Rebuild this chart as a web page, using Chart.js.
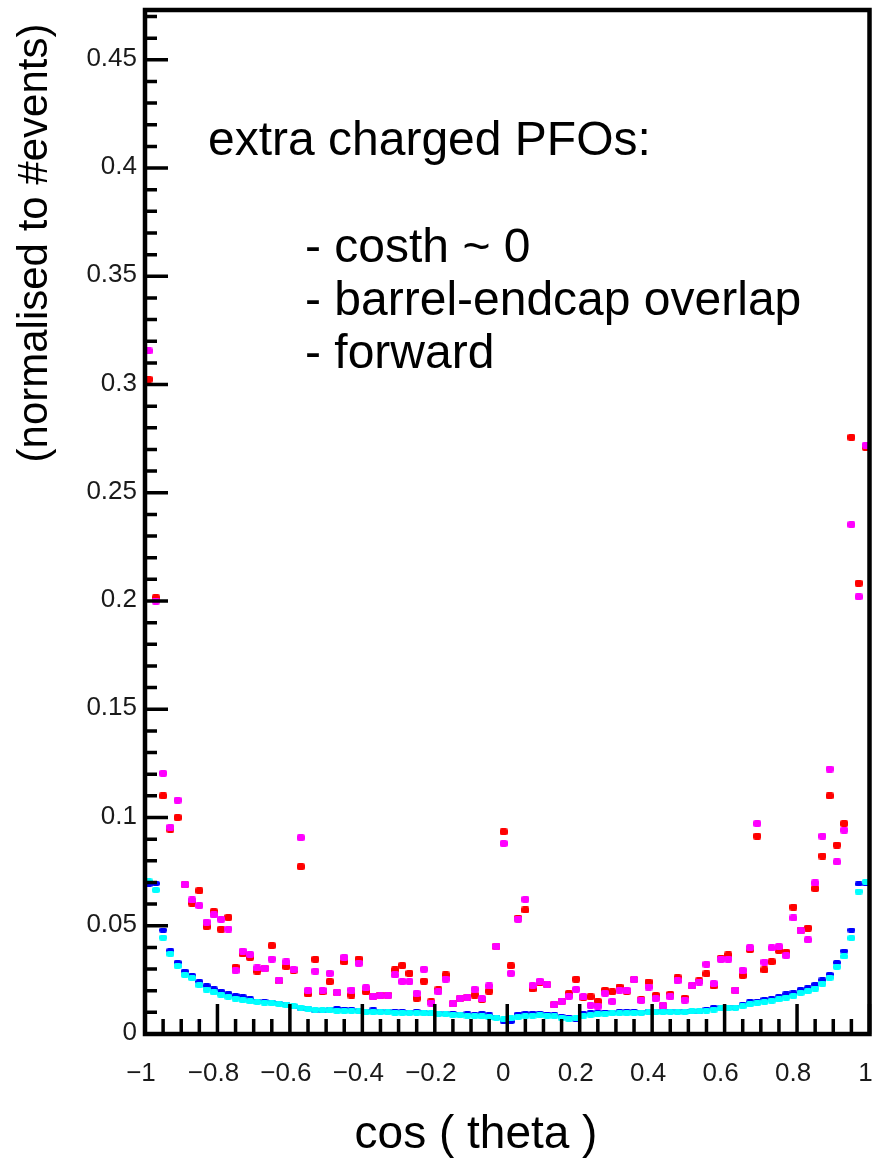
<!DOCTYPE html>
<html>
<head>
<meta charset="utf-8">
<script src="https://cdn.jsdelivr.net/npm/chart.js@4"></script>
<style>
  html, body { margin: 0; padding: 0; background: #fff; }
  #wrap { width: 876px; height: 1158px; position: relative; }
</style>
</head>
<body>
<div id="wrap"><canvas id="costhChart"></canvas></div>
<script>
// cos(theta) of extra charged PFOs, 100 bins from -1 to 1
const nBins = 100;
const binCentres = Array.from({ length: nBins }, (_, i) => -0.99 + 0.02 * i);

const xTickValues = [-1, -0.8, -0.6, -0.4, -0.2, 0, 0.2, 0.4, 0.6, 0.8, 1];
const xTickLabels = ['\u22121', '\u22120.8', '\u22120.6', '\u22120.4', '\u22120.2', '0', '0.2', '0.4', '0.6', '0.8', '1'];
const yTickValues = [0, 0.05, 0.1, 0.15, 0.2, 0.25, 0.3, 0.35, 0.4, 0.45];
const yTickLabels = ['0', '0.05', '0.1', '0.15', '0.2', '0.25', '0.3', '0.35', '0.4', '0.45'];

const magentaVals = [
  0.3155, 0.200, 0.1204, 0.0955, 0.108, 0.0691, 0.0619, 0.0593, 0.0517, 0.055,
  0.053, 0.0485, 0.0293, 0.0383, 0.0368, 0.0305, 0.0303, 0.0346, 0.0249, 0.0333,
  0.0299, 0.0907, 0.0202, 0.029, 0.0202, 0.028, 0.0193, 0.0354, 0.0203, 0.0326,
  0.0214, 0.0172, 0.0177, 0.0177, 0.0273, 0.0242, 0.0242, 0.0188, 0.0299, 0.0143,
  0.0195, 0.0253, 0.0139, 0.0165, 0.0169, 0.0206, 0.0162, 0.0222, 0.0405, 0.088,
  0.028, 0.0531, 0.0622, 0.0225, 0.0244, 0.0228, 0.0134, 0.015, 0.0174, 0.0206,
  0.0171, 0.0132, 0.0128, 0.0188, 0.015, 0.0202, 0.0202, 0.0251, 0.0155, 0.0217,
  0.0163, 0.013, 0.0172, 0.0246, 0.0156, 0.0222, 0.024, 0.0322, 0.0233, 0.0346,
  0.0345, 0.0202, 0.0294, 0.0399, 0.0972, 0.0332, 0.0398, 0.0404, 0.0362, 0.0536,
  0.0477, 0.0435, 0.0698, 0.0914, 0.1224, 0.0795, 0.0942, 0.2353, 0.202, 0.272
];

const redVals = [
  0.3024, 0.2015, 0.110, 0.0946, 0.100, 0.069, 0.0605, 0.0662, 0.0496, 0.0565,
  0.0484, 0.0538, 0.0308, 0.037, 0.0354, 0.0291, 0.0303, 0.0408, 0.0245, 0.0311,
  0.0295, 0.0773, 0.0185, 0.0345, 0.0195, 0.0242, 0.019, 0.0334, 0.018, 0.0346,
  0.0195, 0.0175, 0.018, 0.018, 0.0296, 0.0316, 0.028, 0.0165, 0.0244, 0.0148,
  0.0204, 0.0273, 0.0139, 0.0163, 0.0168, 0.018, 0.016, 0.0198, 0.0404, 0.0934,
  0.0315, 0.0535, 0.0573, 0.0208, 0.024, 0.0228, 0.0135, 0.0152, 0.0187, 0.0253,
  0.017, 0.0172, 0.015, 0.0202, 0.0195, 0.0217, 0.0198, 0.0252, 0.0158, 0.024,
  0.0178, 0.013, 0.0183, 0.026, 0.0165, 0.0222, 0.0245, 0.0278, 0.0222, 0.035,
  0.0365, 0.0202, 0.027, 0.039, 0.0914, 0.0296, 0.0334, 0.0386, 0.0378, 0.0586,
  0.048, 0.0489, 0.0672, 0.0822, 0.110, 0.0873, 0.0972, 0.2756, 0.2082, 0.271
];

const blueVals = [
  0.069, 0.0695, 0.048, 0.0385, 0.033, 0.029, 0.027, 0.0242, 0.0223, 0.0208,
  0.0198, 0.0188, 0.0178, 0.0172, 0.0162, 0.0152, 0.0148, 0.0146, 0.014, 0.0134,
  0.0128, 0.012, 0.0116, 0.0108, 0.0107, 0.0112, 0.0118, 0.0115, 0.0112, 0.0108,
  0.0106, 0.0111, 0.0104, 0.0103, 0.0104, 0.0102, 0.0101, 0.0102, 0.0099, 0.0097,
  0.0096, 0.0093, 0.0094, 0.0092, 0.0093, 0.009, 0.0094, 0.0088, 0.0078, 0.006,
  0.0058, 0.0092, 0.0095, 0.0096, 0.0094, 0.0092, 0.0089, 0.008, 0.0074, 0.0068,
  0.0094, 0.0098, 0.0099, 0.0101, 0.0099, 0.0103, 0.0102, 0.0104, 0.0101, 0.0105,
  0.0103, 0.0102, 0.0105, 0.0103, 0.0106, 0.0102, 0.0104, 0.0114, 0.0122, 0.0121,
  0.0122, 0.0122, 0.0135, 0.0148, 0.0149, 0.016, 0.0163, 0.0172, 0.0185, 0.019,
  0.0205, 0.0213, 0.0229, 0.025, 0.0275, 0.033, 0.0383, 0.048, 0.0693, 0.0696
];

const cyanVals = [
  0.0705, 0.0665, 0.0445, 0.037, 0.0314, 0.0273, 0.0258, 0.0225, 0.0205, 0.0192,
  0.0182, 0.0172, 0.0163, 0.0156, 0.0151, 0.0148, 0.0145, 0.0142, 0.0138, 0.0133,
  0.0128, 0.0122, 0.0117, 0.0112, 0.011, 0.0109, 0.0108, 0.0107, 0.0106, 0.0104,
  0.0103, 0.0102, 0.0101, 0.01, 0.0099, 0.0098, 0.0098, 0.0097, 0.0096, 0.0095,
  0.0094, 0.0091, 0.0089, 0.0087, 0.0085, 0.0083, 0.0081, 0.0079, 0.0075, 0.0068,
  0.0072, 0.0078, 0.0082, 0.0085, 0.0086, 0.0085, 0.0082, 0.0075, 0.0071, 0.0072,
  0.0085, 0.0089, 0.0092, 0.0094, 0.0095, 0.0096, 0.0097, 0.0098, 0.0099, 0.01,
  0.0101, 0.0102, 0.0102, 0.0101, 0.0102, 0.0104, 0.0105, 0.0108, 0.0113, 0.0118,
  0.012, 0.0122, 0.0128, 0.0137, 0.0142, 0.0148, 0.0154, 0.016, 0.0168, 0.0175,
  0.019, 0.0198, 0.021, 0.0232, 0.026, 0.031, 0.0358, 0.0443, 0.0658, 0.0703
];

// small rounded-rect marker images
function marker(color, w, h) {
  const c = document.createElement('canvas');
  c.width = w; c.height = h;
  const g = c.getContext('2d');
  g.fillStyle = color;
  g.beginPath();
  g.roundRect(0, 0, w, h, 2);
  g.fill();
  return c;
}

function series(vals, color, w, h) {
  return {
    data: binCentres.map((x, i) => ({ x: x, y: vals[i] })),
    pointStyle: marker(color, w, h),
    pointRadius: 4,
    showLine: false,
    clip: false
  };
}

const FONT = '"Liberation Sans", Arial, sans-serif';

// frame, inward ticks, tick labels, axis titles and the note text
const rootFrame = {
  id: 'rootFrame',
  afterDatasetsDraw(chart) {
    const { ctx, chartArea: a, scales: { x, y } } = chart;
    ctx.save();
    ctx.strokeStyle = '#000';
    ctx.lineCap = 'butt';

    ctx.lineWidth = 3.5;
    ctx.beginPath();
    for (let k = 0; k <= 40; k++) {
      const px = x.getPixelForValue(-1 + k * 0.05);
      const len = k % 4 === 0 ? 30 : 15;
      ctx.moveTo(px, a.bottom);
      ctx.lineTo(px, a.bottom - len);
    }
    for (let k = 0; k * 0.01 <= y.max; k++) {
      const py = y.getPixelForValue(k * 0.01);
      const len = k % 5 === 0 ? 23 : 12;
      ctx.moveTo(a.left, py);
      ctx.lineTo(a.left + len, py);
    }
    ctx.stroke();

    ctx.lineWidth = 4.5;
    ctx.strokeRect(a.left, a.top, a.right - a.left, a.bottom - a.top);

    // tick labels
    ctx.fillStyle = '#1a1a1a';
    ctx.font = '26px ' + FONT;
    ctx.textAlign = 'right';
    ctx.textBaseline = 'middle';
    yTickValues.forEach((v, i) => {
      ctx.fillText(yTickLabels[i], a.left - 8, y.getPixelForValue(v) - 1);
    });
    ctx.textAlign = 'center';
    ctx.textBaseline = 'alphabetic';
    xTickValues.forEach((v, i) => {
      ctx.fillText(xTickLabels[i], x.getPixelForValue(v) - 4, a.bottom + 47);
    });

    ctx.fillStyle = '#000';
    ctx.font = '46px ' + FONT;
    ctx.fillText('cos ( theta )', 476, 1148);

    ctx.save();
    ctx.translate(47, 243);
    ctx.rotate(-Math.PI / 2);
    ctx.font = '42px ' + FONT;
    ctx.fillText('(normalised to #events)', 0, 0);
    ctx.restore();

    ctx.textAlign = 'left';
    ctx.font = '48px ' + FONT;
    ctx.fillText('extra charged PFOs:', 208, 155);
    ctx.fillText('- costh ~ 0', 305, 262);
    ctx.fillText('- barrel-endcap overlap', 305, 315);
    ctx.fillText('- forward', 305, 368);
    ctx.restore();
  }
};

new Chart(document.getElementById('costhChart').getContext('2d'), {
  type: 'scatter',
  data: {
    datasets: [
      series(magentaVals, '#ff00ff', 8, 7),
      series(redVals, '#ff0000', 8, 7),
      series(cyanVals, '#00ffff', 8, 6),
      series(blueVals, '#0000ff', 8, 5)
    ]
  },
  options: {
    responsive: true,
    maintainAspectRatio: false,
    animation: false,
    layout: { padding: { left: 0, right: 6.5, top: 10, bottom: 0 } },
    plugins: {
      legend: { display: false },
      tooltip: { enabled: false }
    },
    scales: {
      x: {
        type: 'linear',
        min: -1,
        max: 1,
        grid: { display: false, drawTicks: false },
        border: { display: false },
        ticks: { display: false },
        afterFit: s => { s.height = 124; }
      },
      y: {
        type: 'linear',
        min: 0,
        max: 0.473,
        grid: { display: false, drawTicks: false },
        border: { display: false },
        ticks: { display: false },
        afterFit: s => { s.width = 145; }
      }
    }
  },
  plugins: [rootFrame]
});
</script>
</body>
</html>
